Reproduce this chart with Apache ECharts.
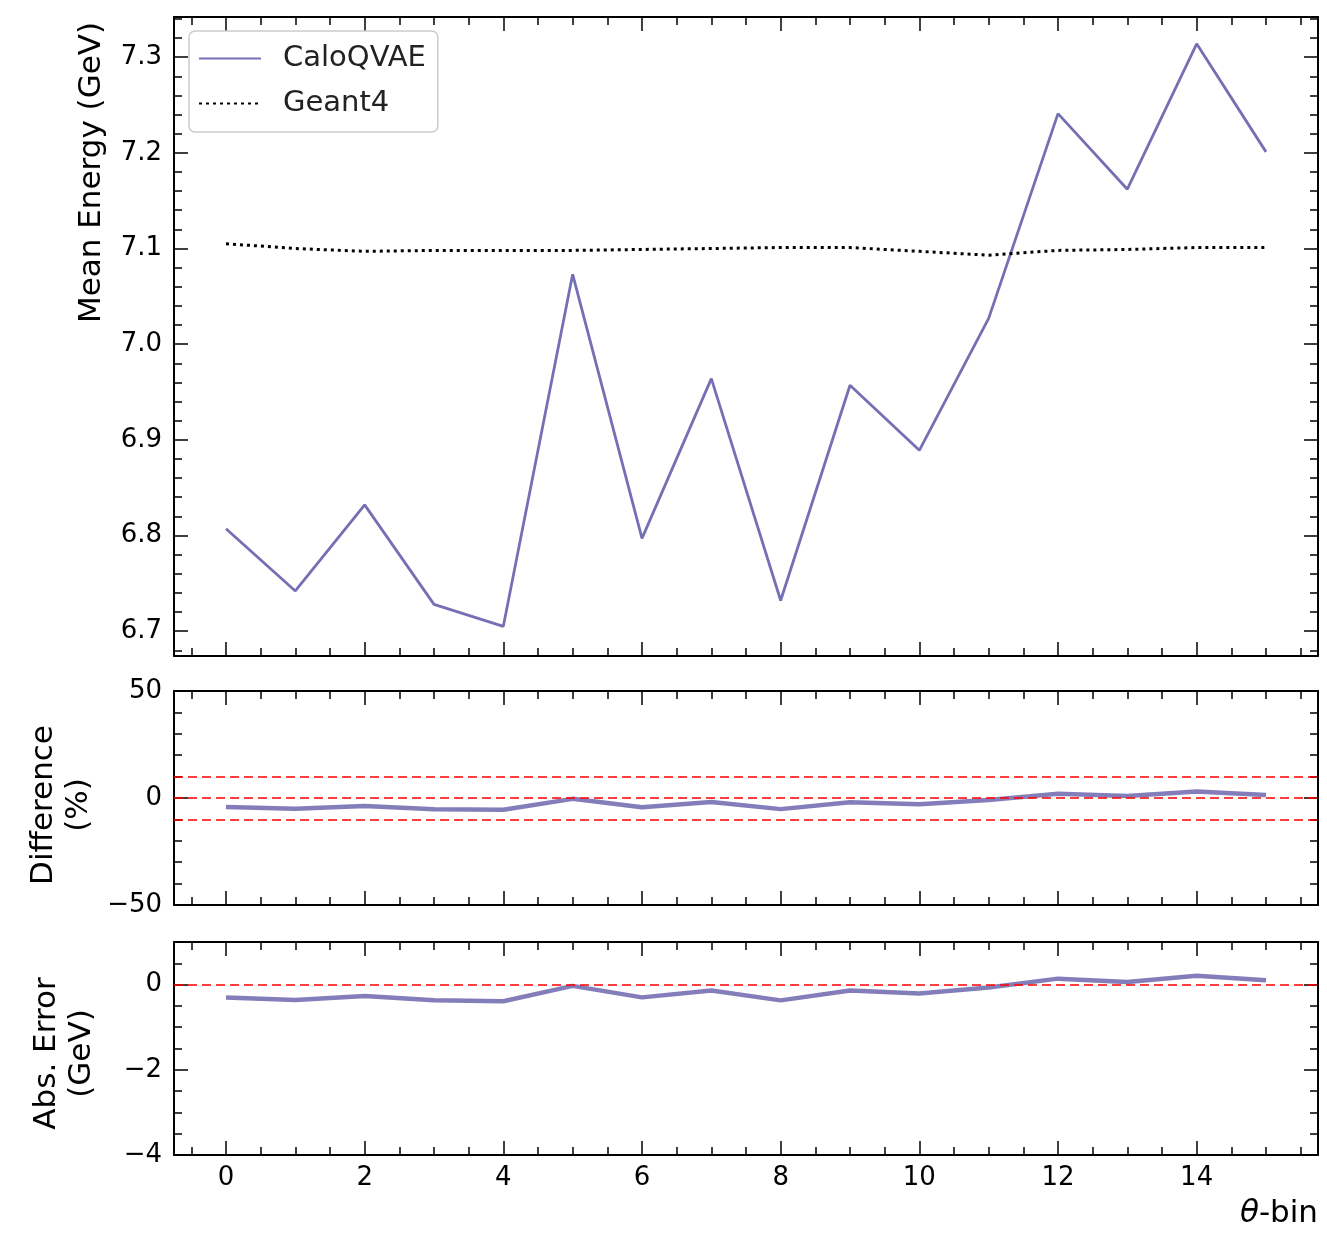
<!DOCTYPE html>
<html>
<head>
<meta charset="utf-8">
<script src="https://cdn.jsdelivr.net/npm/echarts@6/dist/echarts.min.js"></script>
<style>
  html, body { margin: 0; padding: 0; background: #fff; }
  #chart { width: 1327px; height: 1240px; }
</style>
</head>
<body>
<div id="chart"></div>
<script>
// θ-bin index
const thetaBins = [0, 1, 2, 3, 4, 5, 6, 7, 8, 9, 10, 11, 12, 13, 14, 15];
// Mean shower energy per θ-bin (GeV)
const caloQVAE = [6.807, 6.742, 6.832, 6.728, 6.705, 7.073, 6.797, 6.964, 6.732, 6.957, 6.889, 7.027, 7.241, 7.162, 7.314, 7.201];
const geant4   = [7.105, 7.100, 7.097, 7.098, 7.098, 7.098, 7.099, 7.100, 7.101, 7.101, 7.097, 7.093, 7.098, 7.099, 7.101, 7.101];
// CaloQVAE relative to Geant4
const differencePct = [-4.2, -5.0, -3.7, -5.2, -5.5, -0.4, -4.3, -1.9, -5.2, -2.0, -2.9, -0.9, 2.0, 0.9, 3.0, 1.4];
const absErrorGeV   = [-0.30, -0.36, -0.27, -0.37, -0.39, -0.03, -0.30, -0.14, -0.37, -0.14, -0.21, -0.07, 0.14, 0.06, 0.21, 0.10];

// Tick labels
const xTicks = [0, 2, 4, 6, 8, 10, 12, 14];
const energyTicks = [6.7, 6.8, 6.9, 7.0, 7.1, 7.2, 7.3];
const diffTicks = [-50, 0, 50];
const absTicks = [-4, -2, 0];

// Reference lines
const diffRefLines = [-10, 0, 10];
const absRefLines = [0];

const FONT = 'DejaVu Sans';
const PURPLE = '#7570b3';
const X_MIN = -0.75, X_MAX = 15.75;

// Minor tick positions
const xMinor = [];
for (let k = -1; k <= 31; k++) { if (k % 4 !== 0) xMinor.push(k / 2); }
const energyMinor = [];
for (let k = 334; k <= 367; k++) { if (k % 5 !== 0) energyMinor.push(k / 50); }
const diffMinor = [-40, -30, -20, -10, 10, 20, 30, 40];
const absMinor = [-3.5, -3, -2.5, -1.5, -1, -0.5, 0.5];

const grids = [
  { left: 174, width: 1144, top: 17, height: 639 },
  { left: 174, width: 1144, top: 691, height: 214 },
  { left: 174, width: 1144, top: 942, height: 213 }
];

const xAxes = [], yAxes = [];
const frameLine = { show: true, onZero: false, lineStyle: { color: '#000', width: 2 } };
const tickLine = { color: '#000', width: 1.5 };
const tickFont = { color: '#000', fontFamily: FONT, fontSize: 26 };

function fmt(v, digits) {
  return v.toFixed(digits).replace('-', '\u2212');
}

// Adds major + minor x axes on one side of a grid; returns the major axis index
function addX(grid, position, labels, extra) {
  const idx = xAxes.length;
  xAxes.push(Object.assign({
    type: 'value', gridIndex: grid, position: position, min: X_MIN, max: X_MAX,
    axisLine: frameLine,
    axisTick: { show: true, inside: true, length: 14, customValues: xTicks, lineStyle: tickLine },
    axisLabel: labels ? Object.assign({ show: true, customValues: xTicks, margin: 10,
      formatter: v => fmt(v, 0) }, tickFont) : { show: false },
    splitLine: { show: false }
  }, extra || {}));
  xAxes.push({
    type: 'value', gridIndex: grid, position: position, min: X_MIN, max: X_MAX,
    axisLine: { show: false, onZero: false },
    axisTick: { show: true, inside: true, length: 8, customValues: xMinor, lineStyle: tickLine },
    axisLabel: { show: false }, splitLine: { show: false }
  });
  return idx;
}

function addY(grid, position, min, max, major, minor, digits, labels, extra) {
  const idx = yAxes.length;
  yAxes.push(Object.assign({
    type: 'value', gridIndex: grid, position: position, min: min, max: max,
    axisLine: frameLine,
    axisTick: { show: true, inside: true, length: 14, customValues: major, lineStyle: tickLine },
    axisLabel: labels ? Object.assign({ show: true, customValues: major, margin: 12,
      formatter: v => fmt(v, digits) }, tickFont) : { show: false },
    splitLine: { show: false }
  }, extra || {}));
  yAxes.push({
    type: 'value', gridIndex: grid, position: position, min: min, max: max,
    axisLine: { show: false, onZero: false },
    axisTick: { show: true, inside: true, length: 8, customValues: minor, lineStyle: tickLine },
    axisLabel: { show: false }, splitLine: { show: false }
  });
  return idx;
}

// Rotated axis title; `shift` moves it along the axis (positive = upwards)
function yName(text, gap, shift) {
  const pad = shift >= 0 ? [0, 0, 0, 2 * shift] : [0, -2 * shift, 0, 0];
  return {
    name: text, nameLocation: 'middle', nameRotate: 90, nameGap: gap,
    nameTextStyle: { color: '#000', fontFamily: FONT, fontSize: 31, lineHeight: 35, padding: pad }
  };
}

// Panel 1: mean energy
const x0 = addX(0, 'bottom', false);
addX(0, 'top', false);
const y0 = addY(0, 'left', 6.674, 7.342, energyTicks, energyMinor, 1, true, yName('Mean Energy (GeV)', 65, 164));
addY(0, 'right', 6.674, 7.342, energyTicks, energyMinor, 1, false);

// Panel 2: relative difference
const x1 = addX(1, 'bottom', false);
addX(1, 'top', false);
const y1 = addY(1, 'left', -50, 50, diffTicks, diffMinor, 0, true, yName('Difference\n(%)', 73, -7));
addY(1, 'right', -50, 50, diffTicks, diffMinor, 0, false);

// Panel 3: absolute error
const x2 = addX(2, 'bottom', true, {
  name: '{i|\u03B8}-bin', nameLocation: 'end', nameGap: 0,
  nameTextStyle: {
    color: '#000', fontFamily: FONT, fontSize: 31, align: 'right', verticalAlign: 'top',
    padding: [43, 0, 0, 0],
    rich: { i: { fontStyle: 'italic', fontFamily: FONT, fontSize: 31, color: '#000' } }
  }
});
addX(2, 'top', false);
const y2 = addY(2, 'left', -4, 1, absTicks, absMinor, 0, true, yName('Abs. Error\n(GeV)', 75, -5));
addY(2, 'right', -4, 1, absTicks, absMinor, 0, false);

function refLines(values) {
  return {
    silent: true, symbol: ['none', 'none'], animation: false,
    label: { show: false },
    lineStyle: { color: '#ff0000', type: [9, 5], width: 1.7 },
    data: values.map(v => ({ yAxis: v }))
  };
}

const pairs = arr => thetaBins.map((b, i) => [b, arr[i]]);

const option = {
  animation: false,
  backgroundColor: '#fff',
  grid: grids,
  xAxis: xAxes,
  yAxis: yAxes,
  legend: {
    orient: 'vertical', left: 189, top: 31,
    padding: [11, 12, 12, 9],
    itemWidth: 62, itemHeight: 14, itemGap: 12,
    backgroundColor: 'rgba(255,255,255,0.8)',
    borderColor: '#cccccc', borderWidth: 1.5, borderRadius: 6,
    itemStyle: { opacity: 0 },
    textStyle: { color: '#222', fontFamily: FONT, fontSize: 29, lineHeight: 33, padding: [0, 0, 0, 17] },
    data: ['CaloQVAE', 'Geant4']
  },
  series: [
    {
      name: 'CaloQVAE', type: 'line', xAxisIndex: x0, yAxisIndex: y0,
      data: pairs(caloQVAE), symbol: 'none', z: 3,
      lineStyle: { color: PURPLE, width: 2.8 }, itemStyle: { color: PURPLE }
    },
    {
      name: 'Geant4', type: 'line', xAxisIndex: x0, yAxisIndex: y0,
      data: pairs(geant4), symbol: 'none', z: 3,
      lineStyle: { color: '#000', width: 3, type: [3, 4] }, itemStyle: { color: '#000' }
    },
    {
      name: 'diff', type: 'line', xAxisIndex: x1, yAxisIndex: y1,
      data: pairs(differencePct), symbol: 'none', z: 3,
      lineStyle: { color: PURPLE, width: 4.5, opacity: 0.9 },
      markLine: refLines(diffRefLines)
    },
    {
      name: 'abs', type: 'line', xAxisIndex: x2, yAxisIndex: y2,
      data: pairs(absErrorGeV), symbol: 'none', z: 3,
      lineStyle: { color: PURPLE, width: 4.5, opacity: 0.9 },
      markLine: refLines(absRefLines)
    }
  ]
};

const chart = echarts.init(document.getElementById('chart'), null, { renderer: 'canvas' });
chart.setOption(option);
</script>
</body>
</html>
